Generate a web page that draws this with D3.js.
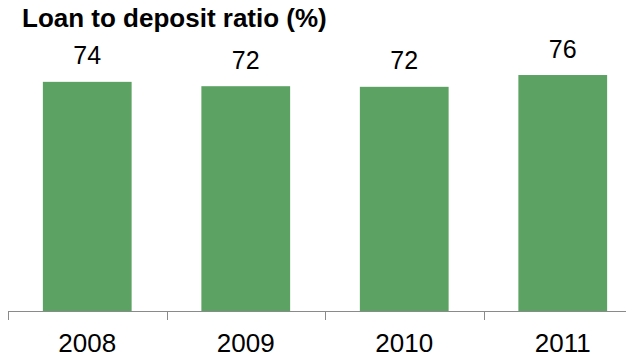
<!DOCTYPE html>
<html>
<head>
<meta charset="utf-8">
<script src="https://cdn.jsdelivr.net/npm/d3@7"></script>
<style>
  html, body { margin: 0; padding: 0; background: #ffffff; }
  svg { display: block; }
  text { font-family: "Liberation Sans", Arial, sans-serif; fill: #000; }
</style>
</head>
<body>
<svg id="chart" width="626" height="357"></svg>
<script>
const title = "Loan to deposit ratio (%)";
const categories = ["2008", "2009", "2010", "2011"];
const values = [73.8, 72.4, 72.2, 76.0];
const valueLabels = ["74", "72", "72", "76"];

const svg = d3.select("#chart");
const baseY = 311;

const x = d3.scaleBand()
  .domain(categories)
  .range([8, 642])
  .paddingInner(0.44)
  .paddingOuter(0.22);

const y = d3.scaleLinear()
  .domain([0, 100])
  .range([baseY, baseY - 310.5]);

// title
svg.append("text")
  .attr("x", 22)
  .attr("y", 27)
  .attr("font-size", 26)
  .attr("font-weight", "bold")
  .text(title);

// bars
svg.append("g").selectAll("rect")
  .data(values)
  .join("rect")
  .attr("x", (d, i) => x(categories[i]))
  .attr("y", d => y(d))
  .attr("width", x.bandwidth())
  .attr("height", d => baseY - y(d))
  .attr("fill", "#5ca363");

// value labels
svg.append("g").selectAll("text")
  .data(values)
  .join("text")
  .attr("x", (d, i) => x(categories[i]) + x.bandwidth() / 2)
  .attr("y", d => y(d) - 17.5)
  .attr("text-anchor", "middle")
  .attr("font-size", 25)
  .text((d, i) => valueLabels[i]);

// axis
const axisG = svg.append("g");
axisG.append("line")
  .attr("x1", 8).attr("x2", 626)
  .attr("y1", baseY + 0.5).attr("y2", baseY + 0.5)
  .attr("stroke", "#8a8a8a").attr("stroke-width", 1);

const boundaries = categories.map(c => x(c) - x.step() * x.paddingInner() / 2);
boundaries[0] = x.range()[0];
axisG.selectAll("line.tick")
  .data(boundaries)
  .join("line")
  .attr("class", "tick")
  .attr("x1", d => Math.round(d) + 0.5).attr("x2", d => Math.round(d) + 0.5)
  .attr("y1", baseY).attr("y2", baseY + 9)
  .attr("stroke", "#8a8a8a").attr("stroke-width", 1);

axisG.selectAll("text")
  .data(categories)
  .join("text")
  .attr("x", d => x(d) + x.bandwidth() / 2)
  .attr("y", 352)
  .attr("text-anchor", "middle")
  .attr("font-size", 26)
  .text(d => d);
</script>
</body>
</html>
